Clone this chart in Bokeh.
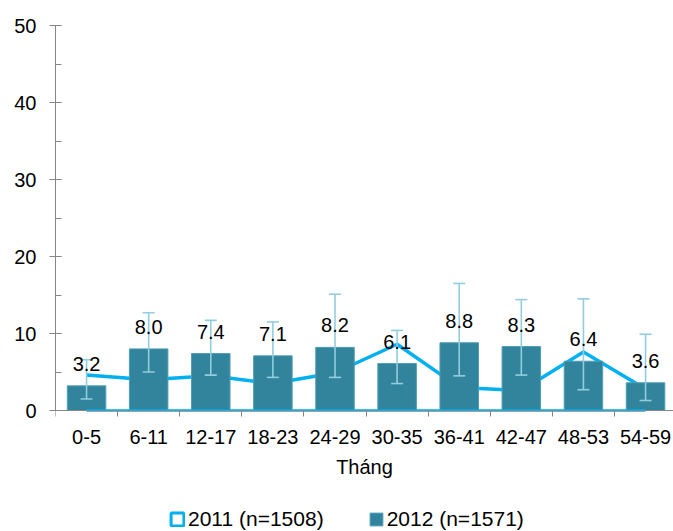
from bokeh.plotting import figure
from bokeh.models import (Range1d, LinearAxis, FixedTicker, SingleIntervalTicker,
                          Whisker, TeeHead, ColumnDataSource, Legend, LegendItem, LabelSet)
from bokeh.core.properties import value
from bokeh.embed import file_html
from bokeh.resources import INLINE

# ---- data ----
categories = ["0-5", "6-11", "12-17", "18-23", "24-29", "30-35", "36-41", "42-47", "48-53", "54-59"]
values_2012 = [3.2, 8.0, 7.4, 7.1, 8.2, 6.1, 8.8, 8.3, 6.4, 3.6]
err_low_2012 = [1.5, 5.0, 4.6, 4.3, 4.3, 3.5, 4.5, 4.6, 2.7, 1.3]
err_high_2012 = [6.6, 12.7, 11.7, 11.5, 15.1, 10.4, 16.5, 14.4, 14.5, 9.9]
values_2011 = [4.6, 4.0, 4.5, 3.5, 4.9, 8.6, 3.0, 2.6, 7.6, 2.8]
baseline_2011 = [0, 0, 0, 0, 0, 0, 0, 0, 0, 0]
label_2011 = "2011 (n=1508)"
label_2012 = "2012 (n=1571)"
x_title = "Tháng"
y_min, y_max = 0, 50

FONT = "Liberation Sans"
BAR = "#31849b"
LINE = "#00b0f0"
ERR = "#93cddd"
AXIS = "#868686"

n = len(categories)
xs = [i + 0.5 for i in range(n)]
bounds = list(range(n + 1))

src = ColumnDataSource(dict(
    x=xs, cat=categories, v12=values_2012, lo=err_low_2012, hi=err_high_2012,
    v11=values_2011, base=baseline_2011,
    lbl=["%.1f" % v for v in values_2012],
))

# frame spans the whole lower area; 0 sits 121 px above the bottom (7.7 px per unit)
PX_PER_UNIT = 385 / (y_max - y_min)
p = figure(width=673, height=531, x_range=Range1d(0, 9.95),
           y_range=Range1d(y_min - 121 / PX_PER_UNIT, y_max),
           output_backend="svg", toolbar_location=None,
           x_axis_type=None, y_axis_type=None,
           min_border_left=55, min_border_right=0, min_border_top=25, min_border_bottom=0)
p.outline_line_color = None
p.xgrid.visible = False
p.ygrid.visible = False
p.background_fill_color = "white"
p.border_fill_color = "white"

# legend glyph holder for 2011 (zero-size squares under the line)
r11 = p.rect(x="x", y="v11", width=0, height=0, source=src,
             fill_color="white", line_color=LINE, line_width=3)

# 2011 line (behind bars)
p.line(x="x", y="v11", source=src, line_color=LINE, line_width=3.5)

# 2012 bars
bars = p.vbar(x="x", top="v12", width=0.62, bottom=0, source=src,
              fill_color=BAR, line_color="#4f9fb4", line_width=1)

# 2011 base line along zero
p.line(x="x", y="base", source=src, line_color=LINE, line_width=2.5)

# error bars
w = Whisker(base="x", upper="hi", lower="lo", source=src, line_color=ERR, line_width=1.6,
            upper_head=TeeHead(size=12, line_color=ERR, line_width=1.6),
            lower_head=TeeHead(size=12, line_color=ERR, line_width=1.6))
w.level = "annotation"
p.add_layout(w)

# data labels (drawn above the error bars)
labels = LabelSet(x="x", y="v12", text="lbl", source=src, text_align="center",
                  text_baseline="alphabetic", y_offset=15, text_font=value(FONT),
                  text_font_size=value("20px"), text_color="black", level="annotation")
p.add_layout(labels)

# y axis
yax = LinearAxis(ticker=SingleIntervalTicker(interval=10, num_minor_ticks=2),
                 bounds=(y_min, y_max))
yax.axis_line_color = AXIS
yax.major_tick_line_color = AXIS
yax.minor_tick_line_color = AXIS
yax.major_tick_in = 6
yax.major_tick_out = 6
yax.minor_tick_in = 6
yax.minor_tick_out = 0
yax.major_label_standoff = 13
yax.major_label_text_font = FONT
yax.major_label_text_font_size = "20px"
yax.major_label_text_color = "black"
p.add_layout(yax, "left")

# x axis at y=0: boundary ticks (no labels)
xax1 = LinearAxis(ticker=FixedTicker(ticks=bounds, minor_ticks=[]),
                  major_label_overrides={b: "" for b in bounds}, fixed_location=0)
xax1.axis_line_color = AXIS
xax1.major_tick_line_color = AXIS
xax1.major_tick_in = 0
xax1.major_tick_out = 6
xax1.major_label_text_font_size = "1px"
xax1.major_label_standoff = 0
p.add_layout(xax1, "below")

# x axis at y=0: category labels and title
xax2 = LinearAxis(ticker=FixedTicker(ticks=xs, minor_ticks=[]),
                  major_label_overrides={x: c for x, c in zip(xs, categories)},
                  fixed_location=0)
xax2.axis_line_color = None
xax2.major_tick_line_color = None
xax2.major_tick_in = 0
xax2.major_tick_out = 0
xax2.major_label_standoff = 19
xax2.major_label_text_font = FONT
xax2.major_label_text_font_size = "20px"
xax2.major_label_text_color = "black"
xax2.axis_label = x_title
xax2.axis_label_standoff = 9
xax2.axis_label_text_font = FONT
xax2.axis_label_text_font_size = "20px"
xax2.axis_label_text_font_style = "normal"
xax2.axis_label_text_color = "black"
p.add_layout(xax2, "below")

# legend at the bottom of the frame
legend = Legend(items=[LegendItem(label=label_2011, renderers=[r11]),
                       LegendItem(label=label_2012, renderers=[bars])],
                orientation="horizontal", location=(114, 0),
                glyph_width=16, glyph_height=16, label_standoff=3, spacing=44,
                padding=0, margin=0, border_line_color=None, background_fill_alpha=0,
                label_text_font=FONT, label_text_font_size="21px", label_text_color="black")
p.add_layout(legend, "center")

open("out.html", "w").write(file_html(p, INLINE))
